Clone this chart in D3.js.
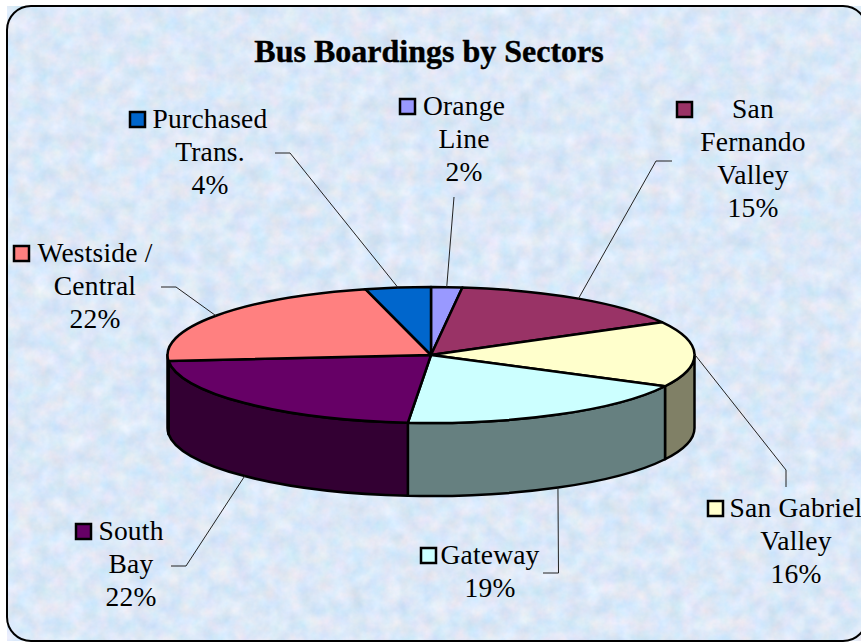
<!DOCTYPE html>
<html>
<head>
<meta charset="utf-8">
<title>Bus Boardings by Sectors</title>
<script src="https://cdn.jsdelivr.net/npm/d3@7"></script>
<style>
  html, body { margin: 0; padding: 0; background: #fff; overflow: hidden; }
  svg { display: block; }
  text { font-family: "Liberation Serif", serif; fill: #000; }
</style>
</head>
<body>
<svg id="chart" width="861" height="643">
  <defs>
    <filter id="paper" x="0" y="0" width="100%" height="100%" color-interpolation-filters="sRGB">
      <feTurbulence type="fractalNoise" baseFrequency="0.06" numOctaves="4" seed="11"/>
      <feColorMatrix type="matrix" values="0.2 0 0 0 0.76  0.06 0.08 0 0 0.84  0 0.06 0.08 0 0.9  0 0 0 0 1"/>
    </filter>
  </defs>
</svg>
<script>
// data
const title = "Bus Boardings by Sectors";
const sectors = ["Orange Line", "San Fernando Valley", "San Gabriel Valley", "Gateway", "South Bay", "Westside / Central", "Purchased Trans."];
const shares = [1.9, 15.1, 15.6, 18.8, 22.2, 22.4, 4.0];
const topColors = ["#9999ff", "#993366", "#ffffcc", "#ccffff", "#660066", "#ff8080", "#0066cc"];
const sideColors = ["#4d4d80", "#4d1a33", "#808066", "#668080", "#330033", "#804040", "#003366"];
const labelLines = [
  ["Orange", "Line"],
  ["San", "Fernando", "Valley"],
  ["San Gabriel", "Valley"],
  ["Gateway"],
  ["South", "Bay"],
  ["Westside /", "Central"],
  ["Purchased", "Trans."]
];

// where labels sit, and the elbow of each leader line
const labelX = [464, 753, 796, 490, 131, 95, 210];
const labelY = [115, 118, 517, 564, 540, 262, 128];
const keyX = [400, 677, 708, 421, 76, 14, 130];
const keyY = [99, 102, 501, 548, 524, 246, 112];
const leaders = [
  [[454, 197]],
  [[672, 161], [656, 161]],
  [[786, 487], [786, 470]],
  [[543, 573], [558.5, 573]],
  [[171, 566], [186, 566]],
  [[161, 287], [176, 287]],
  [[275, 153], [290, 153]]
];

const cx = 431, cy = 355, rx = 263.5, ry = 68, depth = 73;
const lineGap = 33;

const svg = d3.select("#chart");

// panel with the paper texture
svg.append("rect")
  .attr("x", 7).attr("y", 6)
  .attr("width", 860).attr("height", 635)
  .attr("rx", 24).attr("ry", 24)
  .attr("filter", "url(#paper)");
svg.append("rect")
  .attr("x", 7).attr("y", 6)
  .attr("width", 860).attr("height", 635)
  .attr("rx", 24).attr("ry", 24)
  .attr("fill", "none")
  .attr("stroke", "#000")
  .attr("stroke-width", 2);

svg.append("text")
  .attr("x", 429).attr("y", 62)
  .attr("text-anchor", "middle")
  .attr("font-size", 32)
  .attr("font-weight", "bold")
  .attr("stroke", "#000")
  .attr("stroke-width", 0.4)
  .text(title);

const slices = d3.pie().sort(null)(shares);

// the pie is tilted so a circle angle lands on an ellipse
const xAt = a => cx + rx * Math.sin(a);
const yAt = a => cy - ry * Math.cos(a);

// side walls, only the front half (90 to 270 degrees) can be seen
const frontFrom = Math.PI / 2, frontTo = Math.PI * 1.5;
const sides = slices
  .map((s, i) => ({ a0: Math.max(s.startAngle, frontFrom), a1: Math.min(s.endAngle, frontTo), i: i }))
  .filter(s => s.a1 > s.a0);

svg.append("g").selectAll("path")
  .data(sides)
  .join("path")
  .attr("d", s => `M${xAt(s.a0)},${yAt(s.a0)}`
    + `A${rx},${ry} 0 0 1 ${xAt(s.a1)},${yAt(s.a1)}`
    + `L${xAt(s.a1)},${yAt(s.a1) + depth}`
    + `A${rx},${ry} 0 0 0 ${xAt(s.a0)},${yAt(s.a0) + depth}Z`)
  .attr("fill", s => sideColors[s.i])
  .attr("stroke", "#000")
  .attr("stroke-width", 2.5)
  .attr("stroke-linejoin", "round");

// top face
const arc = d3.arc().innerRadius(0).outerRadius(rx);
svg.append("g")
  .attr("transform", `translate(${cx},${cy}) scale(1,${ry / rx})`)
  .selectAll("path")
  .data(slices)
  .join("path")
  .attr("d", arc)
  .attr("fill", (d, i) => topColors[i])
  .attr("stroke", "#000")
  .attr("stroke-width", 2.5)
  .attr("vector-effect", "non-scaling-stroke")
  .attr("stroke-linejoin", "round");

// leader lines run from the middle of each slice's outer edge to the label
const line = d3.line();
svg.append("g").selectAll("path")
  .data(slices)
  .join("path")
  .attr("d", (s, i) => {
    const mid = (s.startAngle + s.endAngle) / 2;
    const front = Math.cos(mid) < -0.1;
    return line(leaders[i].concat([[xAt(mid), yAt(mid) + (front ? depth : 0)]]));
  })
  .attr("fill", "none")
  .attr("stroke", "#222")
  .attr("stroke-width", 1);

// labels with their colour key
const labels = svg.append("g").selectAll("g")
  .data(sectors)
  .join("g");

labels.append("rect")
  .attr("x", (d, i) => keyX[i])
  .attr("y", (d, i) => keyY[i])
  .attr("width", 15).attr("height", 15)
  .attr("fill", (d, i) => topColors[i])
  .attr("stroke", "#000")
  .attr("stroke-width", 2.5);

labels.append("text")
  .attr("text-anchor", "middle")
  .attr("font-size", 27.5)
  .attr("letter-spacing", 0.2)
  .each(function(d, i) {
    const rows = labelLines[i].concat([Math.round(shares[i]) + "%"]);
    d3.select(this).selectAll("tspan")
      .data(rows)
      .join("tspan")
      .attr("x", labelX[i])
      .attr("y", (r, k) => labelY[i] + k * lineGap)
      .text(r => r);
  });
</script>
</body>
</html>
